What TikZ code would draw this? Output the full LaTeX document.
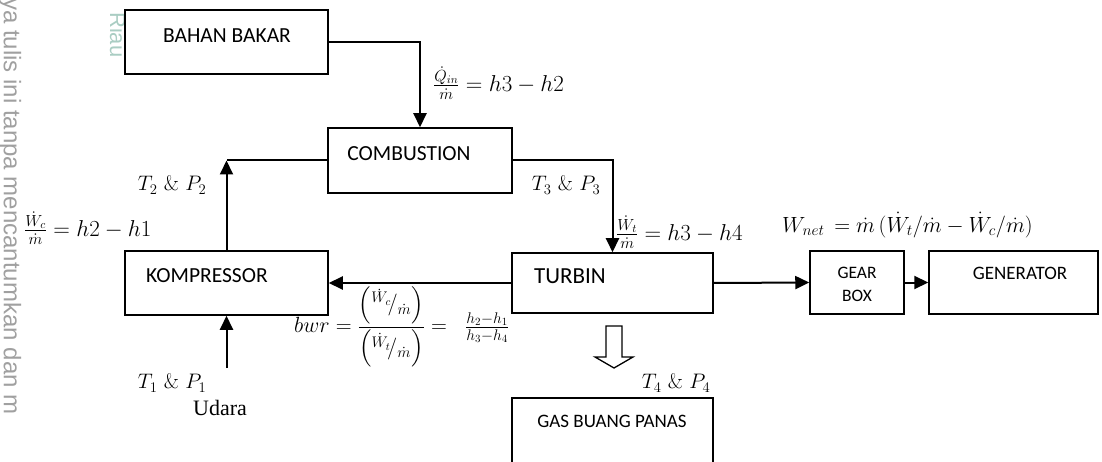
\RequirePackage{fix-cm}
\documentclass[tikz,border=0pt]{standalone}
\usepackage{amsmath}
\usepackage{fontspec}
\usetikzlibrary{arrows.meta}
\newfontfamily\carl{Carlito}
\newfontfamily\tnr{Liberation Serif}
\newfontfamily\wmk{Liberation Sans}
\definecolor{wmgrey}{RGB}{160,160,160}
\definecolor{wmteal}{RGB}{170,205,195}
\begin{document}
\begin{tikzpicture}[x=1pt,y=-1pt,
  box/.style={draw=black,line width=1.5pt,inner sep=0pt,fill=white},
  lbl/.style={font=\carl\fontsize{21.5}{24}\selectfont,inner sep=0pt},
  eq/.style={font=\fontsize{21}{25}\selectfont,inner sep=0pt},
  bigeq/.style={font=\fontsize{23}{27}\selectfont,inner sep=0pt},
  conn/.style={line width=2pt},
  arr/.style={conn,-{Triangle[length=14pt,width=13pt]}},
  wmark/.style={font=\wmk\fontsize{24}{24}\selectfont,rotate=-90,anchor=base west,inner sep=0pt}
]
\useasboundingbox (0,0) rectangle (1102,462);
\clip (0,0) rectangle (1102,462);

% watermark texts
\node[wmark,text=wmgrey] (wm) at (4,-2) {ya tulis ini tanpa mencantumkan dan m};
\node[wmark,text=wmteal,font=\wmk\fontsize{22}{22}\selectfont] (riau) at (110,12) {Riau};

% boxes
\node[box,minimum width=203,minimum height=64] (bahan) at (226.5,42) {};
\node[box,minimum width=184,minimum height=65] (comb) at (420,160.5) {};
\node[box,minimum width=203,minimum height=64] (komp) at (226.5,283) {};
\node[box,minimum width=201,minimum height=60] (turb) at (612.5,283) {};
\node[box,minimum width=94,minimum height=63] (gear) at (857,282.5) {};
\node[box,minimum width=169,minimum height=63] (gen) at (1013.5,282.5) {};
\node[box,minimum width=201,minimum height=82] (gas) at (612.5,439) {};

% box texts
\node[lbl] (bahanT) at (227,36) {BAHAN BAKAR};
\node[lbl] (combT) at (409,154) {COMBUSTION};
\node[lbl] (kompT) at (207,276) {KOMPRESSOR};
\node[lbl,font=\carl\fontsize{23}{26}\selectfont] (turbT) at (570,276) {TURBIN};
\node[lbl,font=\carl\fontsize{17.5}{23}\selectfont,align=center] (gearT) at (857,284.5) {GEAR\\BOX};
\node[lbl,font=\carl\fontsize{19}{22}\selectfont] (genT) at (1020,273) {GENERATOR};
\node[lbl,font=\carl\fontsize{19}{22}\selectfont] (gasT) at (612,421) {GAS BUANG PANAS};

% connectors
\draw[arr] (bahan.east) -| (comb.north);
\coordinate (c2) at (komp.north |- comb.west);
\draw[conn] (comb.west) -- (c2);
\draw[arr] (komp.north) -- (c2);
\draw[arr] (comb.east) -| (turb.north);
\draw[arr] (turb.west) -- (komp.east);
\draw[arr] (turb.east) -- (gear.west);
\draw[arr] (gear.east) -- (gen.west);
\coordinate (air) at (226.5,368);
\draw[arr] (air) -- (komp.south);

% hollow exhaust arrow
\draw[line width=1.3pt,fill=white,line join=miter] (606,326) -- (622,326) -- (622,357) -- (633,357) -- (614,368) -- (595,357) -- (606,357) -- cycle;

% equations and state labels
\node[bigeq,anchor=west] (qin) at (433,83) {$\frac{\dot Q_{in}}{\dot m} = h3 - h2$};
\node[eq] (tp2) at (172,185) {$T_2$ \& $P_2$};
\node[bigeq,anchor=west] (wc) at (24,228) {$\frac{\dot W_c}{\dot m} = h2 - h1$};
\node[eq] (tp3) at (566,185) {$T_3$ \& $P_3$};
\node[bigeq,anchor=west] (wt) at (616,232) {$\frac{\dot W_t}{\dot m} = h3 - h4$};
\node[eq,font=\fontsize{22}{26}\selectfont,anchor=west] (wnet) at (782,225) {$W_{net}\, = \dot m\,(\dot W_t/\dot m - \dot W_c/\dot m)$};
\node[eq,font=\fontsize{22}{26}\selectfont,anchor=west] (bwr) at (294,327) {$bwr = \dfrac{\left({}^{\dot W_c}\!/_{\dot m}\right)}{\left({}^{\dot W_t}\!/_{\dot m}\right)} = \;\; \frac{h_2 - h_1}{h_3 - h_4}$};
\node[eq] (tp4) at (676,383) {$T_4$ \& $P_4$};
\node[eq] (tp1) at (172,383) {$T_1$ \& $P_1$};
\node[font=\tnr\fontsize{22}{24}\selectfont,inner sep=0pt] (udara) at (220,408) {Udara};
\end{tikzpicture}
\end{document}
